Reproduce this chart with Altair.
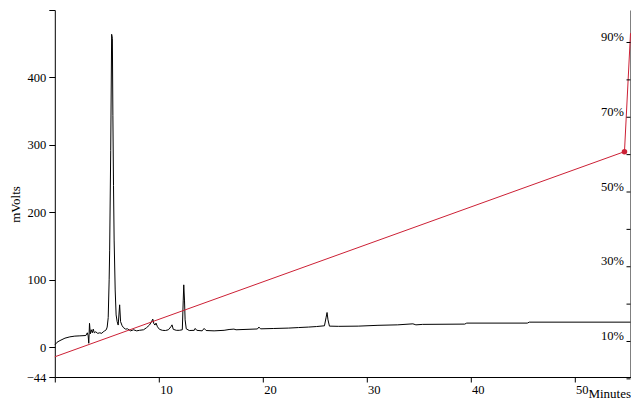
import altair as alt
import pandas as pd

# Chromatogram trace (minutes, mVolts)
time_min = [0.02, 0.21, 0.5, 0.98, 1.45, 1.93, 2.41, 2.99, 3.13, 3.21, 3.27, 3.34, 3.42, 3.51, 3.61,
            3.70, 3.80, 3.94, 4.13, 4.33, 4.52, 4.66, 4.80, 4.95, 5.04, 5.14, 5.23, 5.28, 5.38, 5.47,
            5.54, 5.59, 5.65, 5.71, 5.81, 5.90, 6.00, 6.10, 6.24, 6.33, 6.48, 6.62, 6.81, 7.00, 7.29,
            7.58, 7.87, 8.15, 8.54, 8.82, 9.11, 9.30, 9.43, 9.54, 9.64, 9.74, 9.88, 10.07, 10.35, 10.64,
            10.93, 11.17, 11.28, 11.40, 11.69, 11.98, 12.27, 12.36, 12.41, 12.48, 12.54, 12.65, 12.94,
            13.42, 13.51, 13.66, 14.18, 14.37, 14.56, 15.33, 16.29, 16.77, 17.24, 17.44, 19.5, 19.64,
            19.8, 21.07, 22.5, 23.46, 24.42, 25.19, 25.95, 26.10, 26.20, 26.29, 26.43, 27.29, 29.2,
            31.1, 33.0, 34.46, 34.75, 35.4, 39.45, 39.64, 45.47, 45.66, 55.4]
mvolts = [3.7, 7.4, 10.0, 13.6, 15.5, 16.6, 17.0, 17.5, 21.5, 17.0, 6.0, 35.6, 20.0, 26.0, 21.5,
          27.0, 21.5, 23.0, 20.7, 21.5, 20.7, 23.0, 24.4, 26.0, 30.0, 44.0, 100.0, 144.0, 292.0, 464.0,
          458.0, 344.0, 240.0, 159.0, 85.0, 48.0, 38.0, 33.0, 63.0, 38.0, 32.0, 29.0, 27.0, 27.4, 24.4,
          26.0, 24.4, 25.2, 26.0, 29.0, 33.0, 37.8, 41.8, 34.8, 33.0, 35.9, 30.4, 26.7, 25.2, 24.9,
          26.0, 30.4, 33.3, 26.7, 25.2, 25.2, 26.0, 70.0, 92.6, 70.0, 40.7, 27.4, 24.9,
          25.2, 28.0, 25.2, 24.4, 28.0, 24.9, 24.4, 25.2, 26.4, 27.0, 26.0, 27.2, 30.0,
          27.4, 27.9, 28.5, 29.3, 30.0, 30.8, 31.9, 43.7, 51.6, 40.7, 31.4, 31.1, 31.4,
          32.6, 33.3, 34.8, 33.3, 34.0, 34.4, 35.9, 35.9, 37.3, 37.3]

# Gradient program (minutes, percent)
grad_time = [0.0, 54.82, 55.4]
grad_pct = [5.9, 60.8, 92.5]
dot_time = [54.82]
dot_pct = [60.8]

# Axis ticks
y_ticks = [-44, 0, 100, 200, 300, 400, 500]
x_ticks = [0, 10, 20, 30, 40, 50]
pct_ticks = [0, 10, 20, 30, 40, 50, 60, 70, 80, 90, 100]

W = 575.7
H = 367
RED = "#cc2035"
FONT = "Liberation Serif"

trace_df = pd.DataFrame({"t": time_min, "mv": mvolts})
grad_df = pd.DataFrame({"t": grad_time, "p": grad_pct})
dot_df = pd.DataFrame({"t": dot_time, "p": dot_pct})
tick_df = pd.DataFrame({"p": pct_ticks})

xscale = alt.Scale(domain=[0, 55.4], nice=False, zero=False)
pscale = alt.Scale(domain=[0.5, 98.7], nice=False, zero=False)


def pct_axis():
    return alt.Axis(
        orient="right", values=pct_ticks,
        labelExpr="datum.value % 20 == 10 ? datum.value + '%' : ''",
        ticks=False, tickSize=0, labelPadding=-7, labelAlign="right",
        labelBaseline="alphabetic", labelOffset=-2,
        labelFontSize=12.5, title=None)


trace = alt.Chart(trace_df).mark_line(color="black", strokeWidth=1).encode(
    x=alt.X("t:Q", scale=xscale, axis=alt.Axis(
        values=x_ticks, labelExpr="datum.value == 0 ? '' : datum.label",
        labelAlign="left", labelOffset=1, labelBaseline="top", tickSize=5, labelPadding=1,
        title="Minutes", titleX=W, titleY=20, titleAlign="right",
        titleBaseline="alphabetic", titleFontWeight="normal", titleFontSize=13,
        labelFontSize=12.5)),
    y=alt.Y("mv:Q", scale=alt.Scale(domain=[-44, 500], nice=False, zero=False), axis=alt.Axis(
        values=y_ticks, labelExpr="datum.value == 500 ? '' : datum.label",
        tickSize=6, labelPadding=3, labelBaseline="middle", labelFontSize=12.5,
        title="mVolts", titleX=-39.3, titleY=194, titleAngle=-90, titleAlign="center",
        titleBaseline="middle", titleFontWeight="normal", titleFontSize=13)),
)

grad = alt.Chart(grad_df).mark_line(color=RED, strokeWidth=1).encode(
    x=alt.X("t:Q", scale=xscale),
    y=alt.Y("p:Q", scale=pscale, axis=pct_axis()),
)

ptick = alt.Chart(tick_df).mark_rule(color="black", strokeWidth=1).encode(
    y=alt.Y("p:Q", scale=pscale, axis=pct_axis()),
    x=alt.value(W - 4),
    x2=alt.value(W),
)

dot = alt.Chart(dot_df).mark_point(filled=True, color=RED, size=30, opacity=1).encode(
    x=alt.X("t:Q", scale=xscale),
    y=alt.Y("p:Q", scale=pscale, axis=pct_axis()),
)

right = alt.layer(grad, ptick, dot)

chart = alt.layer(trace, right).resolve_scale(y="independent").properties(
    width=W, height=H,
    autosize=alt.AutoSizeParams(type="none"),
    padding={"left": 46.8, "top": 2, "right": 0.5, "bottom": 25},
).configure_axis(
    labelFont=FONT, titleFont=FONT, labelColor="black", titleColor="black",
    domainColor="black", tickColor="black", grid=False, domainWidth=1, tickWidth=1,
).configure_view(stroke=None)

chart.save("out.html", embed_options={"renderer": "svg", "actions": False})
